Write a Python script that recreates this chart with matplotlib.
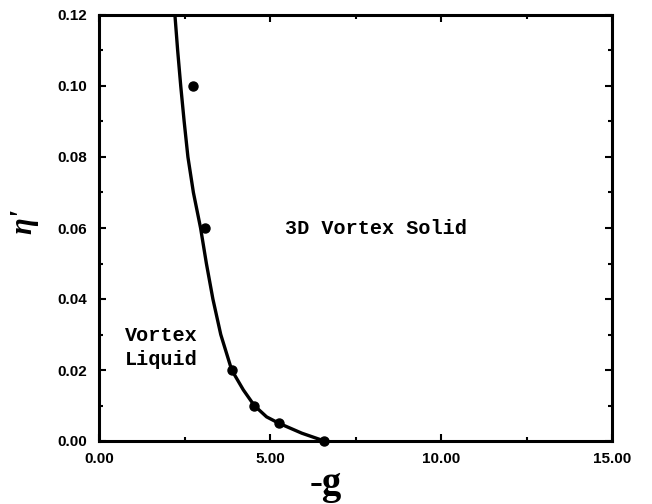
import matplotlib
matplotlib.use("Agg")
import matplotlib.pyplot as plt
from matplotlib.ticker import MultipleLocator, FormatStrFormatter

# Data points (markers)
pts_x = [2.75, 3.10, 3.90, 4.54, 5.26, 6.59]
pts_y = [0.100, 0.060, 0.020, 0.010, 0.005, 0.000]

# Phase boundary curve
curve_x = [2.22, 2.30, 2.39, 2.49, 2.60, 2.76, 2.97, 3.14, 3.33, 3.56, 3.88, 4.22, 4.54, 4.90, 5.26, 5.93, 6.59]
curve_y = [0.120, 0.110, 0.100, 0.090, 0.080, 0.070, 0.060, 0.050, 0.040, 0.030, 0.020, 0.0144, 0.010, 0.0068, 0.005, 0.0022, 0.000]

xticks = [0, 5, 10, 15]
yticks = [0.00, 0.02, 0.04, 0.06, 0.08, 0.10, 0.12]

fig = plt.figure(figsize=(6.52, 5.04), dpi=100)
ax = fig.add_axes([99/652, 63/504, 513/652, 426/504])

ax.plot(curve_x, curve_y, color="black", lw=2.4, solid_joinstyle="round", clip_on=True)
ax.plot(pts_x, pts_y, "o", color="black", ms=6.5, clip_on=False)

ax.set_xlim(0, 15)
ax.set_ylim(0, 0.12)
ax.set_xticks(xticks)
ax.set_yticks(yticks)
ax.xaxis.set_minor_locator(MultipleLocator(2.5))
ax.yaxis.set_minor_locator(MultipleLocator(0.01))
ax.xaxis.set_major_formatter(FormatStrFormatter("%.2f"))
ax.yaxis.set_major_formatter(FormatStrFormatter("%.2f"))
ax.tick_params(which="both", direction="in", top=True, right=True, width=1.5)
ax.tick_params(which="major", length=5)
ax.tick_params(which="minor", length=3)
ax.tick_params(axis="y", pad=8.5)
ax.tick_params(axis="x", pad=8)
for s in ax.spines.values():
    s.set_linewidth(2.2)
for lab in ax.get_xticklabels() + ax.get_yticklabels():
    lab.set_fontfamily("Liberation Sans")
    lab.set_fontweight("bold")
    lab.set_fontsize(11)

ax.text(5.44, 0.06, "3D Vortex Solid", family="Liberation Mono", weight="bold",
        fontsize=14.5, ha="left", va="center")
ax.text(0.76, 0.0264, "Vortex\nLiquid", family="Liberation Mono", weight="bold",
        fontsize=14.5, ha="left", va="center", linespacing=1.3)

fig.text(24/652, 1 - 221/504, "η'", family="Liberation Serif", style="italic",
         weight="bold", fontsize=22, rotation=90, ha="center", va="center")
fig.text(326/652, 1 - 494/504, "-g", family="Liberation Serif", weight="bold",
         fontsize=28, ha="center", va="baseline")

fig.savefig("out.png", dpi=100)
